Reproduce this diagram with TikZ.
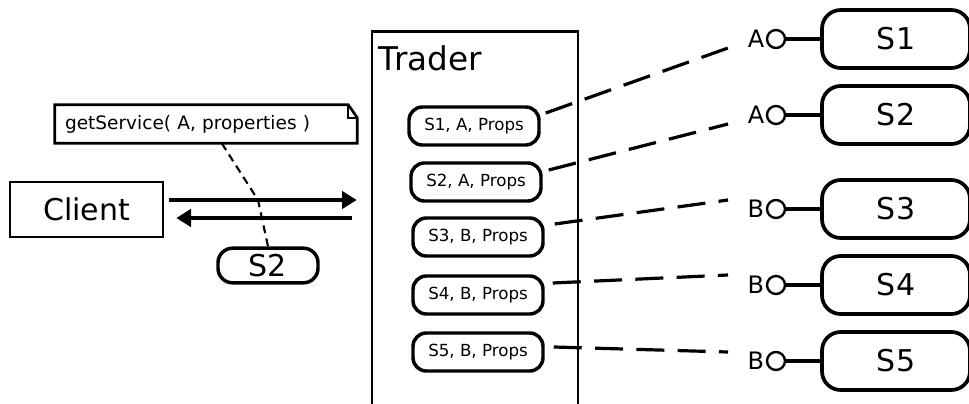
\documentclass[tikz,border=0pt]{standalone}
\usepackage{fontspec}
\setmainfont{DejaVu Sans}
\usepackage{tikz}
\usetikzlibrary{calc,positioning,arrows.meta}
\tikzset{
  big/.style = {font=\fontsize{22.5}{26}\selectfont},
  client_box/.style = {draw, line width=2pt, big, minimum width=114.75pt, minimum height=41.25pt},
  trader_box/.style = {draw, line width=2pt, minimum width=154.5pt, minimum height=292.5pt},
  entry/.style = {draw, line width=2.6pt, rounded corners=10pt, font=\fontsize{12.5}{15}\selectfont, minimum width=97.5pt, minimum height=28.5pt, inner sep=0pt},
  svc_box/.style = {draw, line width=2.8pt, rounded corners=14pt, big, minimum width=111pt, minimum height=43.5pt},
  token/.style = {draw, line width=2.6pt, rounded corners=11pt, big, minimum width=75pt, minimum height=26pt, inner sep=0pt},
  iface/.style = {circle, draw, line width=1.8pt, minimum size=13.5pt, inner sep=0pt},
  lbl/.style = {font=\fontsize{18}{20}\selectfont, inner sep=0pt, label distance=1pt},
  notebox/.style = {font=\fontsize{13.9}{16}\selectfont, text width=211.5pt, inner xsep=7.5pt, minimum height=28.5pt, align=left},
  wire/.style = {line width=2.6pt},
  link/.style = {line width=2.4pt, dash pattern=on 21pt off 10pt},
  msg/.style = {line width=2.6pt, -{Triangle[length=11pt, width=13pt]}},
  note_line/.style = {line width=1.6pt, dash pattern=on 6pt off 4pt}
}

\begin{document}
\begin{tikzpicture}[x=0.75pt, y=-0.75pt]
  \useasboundingbox (0,0) rectangle (969,403);
  \clip (0,0) rectangle (969,403);

  % client and trader
  \node[client_box] (client) at (86.5,209.5) {Client};
  \node[trader_box, anchor=north] (trader) at (475,30) {};
  \node[font=\fontsize{24.5}{28}\selectfont, anchor=base west, inner sep=0pt] (title) at ($(trader.north west)+(8,40)$) {Trader};

  % offers held by the trader
  \node[entry] (e1) at (474,126) {S1, A, Props};
  \node[entry] (e2) at (476,182) {S2, A, Props};
  \node[entry] (e3) at (478,237) {S3, B, Props};
  \node[entry] (e4) at (478,295) {S4, B, Props};
  \node[entry] (e5) at (478,352) {S5, B, Props};

  % services with their interfaces
  \node[svc_box] (s1) at (896,39) {S1};
  \node[svc_box] (s2) at (896,115) {S2};
  \node[svc_box] (s3) at (896,209) {S3};
  \node[svc_box] (s4) at (896,285) {S4};
  \node[svc_box] (s5) at (896,361) {S5};
  \node[iface, label={[lbl]left:A}] (i1) at (776,39) {};
  \node[iface, label={[lbl]left:A}] (i2) at (776,115) {};
  \node[iface, label={[lbl]left:B}] (i3) at (776,209) {};
  \node[iface, label={[lbl]left:B}] (i4) at (776,285) {};
  \node[iface, label={[lbl]left:B}] (i5) at (776,361) {};
  \draw[wire] (i1) -- (s1);
  \draw[wire] (i2) -- (s2);
  \draw[wire] (i3) -- (s3);
  \draw[wire] (i4) -- (s4);
  \draw[wire] (i5) -- (s5);

  % offers linked to the interfaces
  \coordinate (d1) at (728,48);
  \coordinate (d2) at (728,124);
  \coordinate (d3) at (728,200);
  \coordinate (d4) at (728,275);
  \coordinate (d5) at (728,352);
  \draw[link] ($(e1.east)+(5,-13)$) -- (d1);
  \draw[link] ($(e2.east)+(6,-12)$) -- (d2);
  \draw[link] ($(e3.east)+(10,-13)$) -- (d3);
  \draw[link] ($(e4.east)+(8,-12)$) -- (d4);
  \draw[link] ($(e5.east)+(9,-5)$) -- (d5);

  % request and reply
  \coordinate (req) at ($(client.east)+(5,-9.5)$);
  \coordinate (rep) at ($(client.east)+(12,8.5)$);
  \coordinate (gate) at ($(trader.west)+(-14,0)$);
  \coordinate (back) at ($(trader.west)+(-19,0)$);
  \draw[msg] (req) -- (req -| gate);
  \draw[msg] (rep -| back) -- (rep);

  % note and returned token
  \node[notebox] (note) at (206,124) {getService( A, properties )};
  \draw[line width=2pt] (note.south west) -- (note.north west) -- ($(note.north east)+(-9,0)$)
    -- ($(note.north east)+(0,13)$) -- (note.south east) -- cycle;
  \draw[line width=1.6pt] ($(note.north east)+(-9,0)$) |- ($(note.north east)+(0,13)$);
  \node[token] (tok) at (268,265.5) {S2};
  \coordinate (kink) at (258,200);
  \draw[note_line] ($(note.south west)+(167,0)$) -- (kink) -- (tok.north);
\end{tikzpicture}
\end{document}
